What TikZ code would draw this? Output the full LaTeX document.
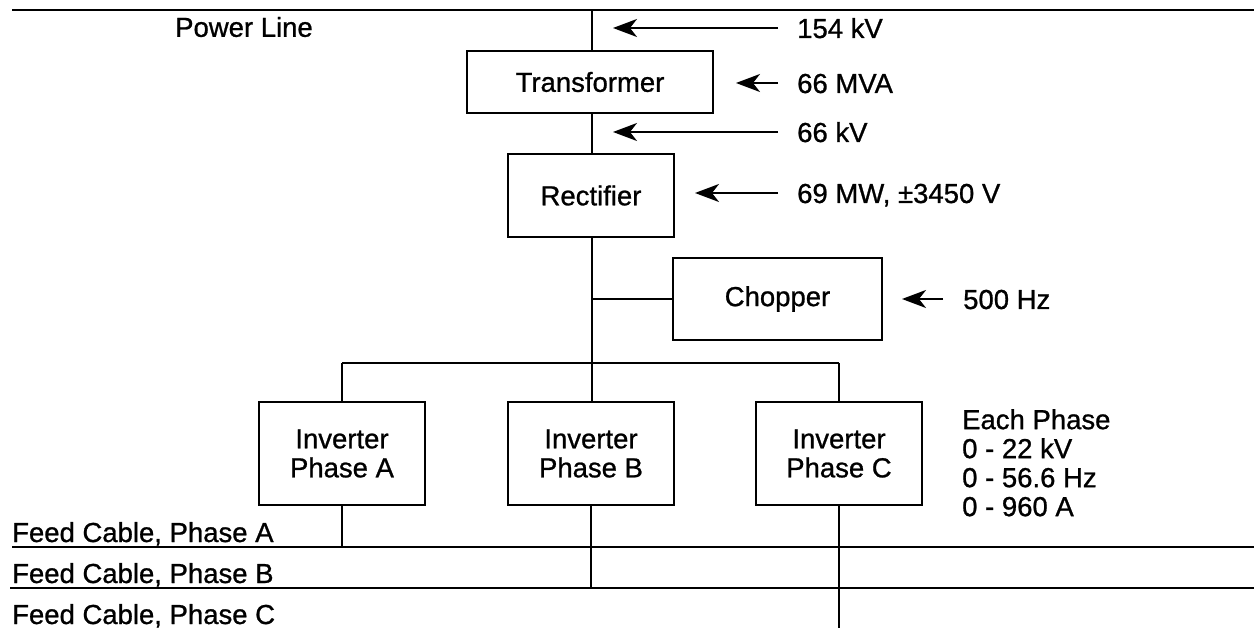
\documentclass[tikz,border=0pt]{standalone}
\usepackage{fontspec}
\setmainfont[FakeBold=0.9]{Liberation Sans}
\usetikzlibrary{arrows.meta}
\begin{document}
\begin{tikzpicture}[x=1pt,y=-1pt,
  every node/.style={font=\fontsize{27.5}{29}\selectfont},
  ln/.style={line width=1.9pt},
  blk/.style={draw,line width=1.6pt,inner sep=0pt,align=center},
  arr/.style={line width=1.9pt,-{Stealth[length=24pt,width=18pt,inset=7pt]}},
  lbl/.style={anchor=base west,inner sep=0pt}]
\useasboundingbox (0,0) rectangle (1254,628);
% top power line
\coordinate (pl0) at (12,10);
\coordinate (pl1) at (1254,10);
\coordinate (pltap) at (592,10);
\draw[ln] (pl0) -- (pl1);
\node[inner sep=0pt] (powerline) at (244,27) {Power Line};
% boxes
\node[blk,minimum width=246pt,minimum height=62pt] (trans) at (590,82) {Transformer};
\node[blk,minimum width=166pt,minimum height=83pt] (rect) at (591,195.5) {Rectifier};
\node[blk,minimum width=209pt,minimum height=82pt] (chop) at (777.5,299) {Chopper};
\node[blk,minimum width=166pt,minimum height=103pt] (invA) at (342,453.5) {Inverter\\Phase A};
\node[blk,minimum width=166pt,minimum height=103pt] (invB) at (591,453.5) {Inverter\\Phase B};
\node[blk,minimum width=166pt,minimum height=103pt] (invC) at (839,453.5) {Inverter\\Phase C};
% main trunk
\coordinate (chtap) at (592,299);
\coordinate (busA) at (342,363);
\coordinate (busB) at (592,363);
\coordinate (busC) at (839,363);
\draw[ln] (pltap) -- (trans.north -| pltap);
\draw[ln] (trans.south -| pltap) -- (rect.north -| pltap);
\draw[ln] (rect.south -| pltap) -- (busB);
\draw[ln] (chtap) -- (chop.west);
\draw[ln] (busA) -- (busC);
\draw[ln] (busA) -- (invA.north);
\draw[ln] (busB) -- (invB.north -| busB);
\draw[ln] (busC) -- (invC.north);
% feed cables
\coordinate (fa0) at (12,547);
\coordinate (fa1) at (1254,547);
\coordinate (fb0) at (10,588);
\coordinate (fb1) at (1254,588);
\coordinate (fA) at (342,547);
\coordinate (fB) at (591,588);
\coordinate (fC) at (839,628);
\draw[ln] (fa0) -- (fa1);
\draw[ln] (fb0) -- (fb1);
\draw[ln] (invA.south) -- (fA);
\draw[ln] (invB.south) -- (fB);
\draw[ln] (invC.south) -- (fC);
\node[lbl] (fcA) at (12,542) {Feed Cable, Phase A};
\node[lbl] (fcB) at (12,583) {Feed Cable, Phase B};
\node[lbl] (fcC) at (12,624) {Feed Cable, Phase C};
% ratings with arrows
\coordinate (a1) at (778,28);  \coordinate (h1) at (613,28);
\coordinate (a2) at (778,83);  \coordinate (h2) at (736,83);
\coordinate (a3) at (778,132); \coordinate (h3) at (613,132);
\coordinate (a4) at (778,193); \coordinate (h4) at (695,193);
\coordinate (a5) at (943,299); \coordinate (h5) at (902,299);
\draw[arr] (a1) -- (h1);
\draw[arr] (a2) -- (h2);
\draw[arr] (a3) -- (h3);
\draw[arr] (a4) -- (h4);
\draw[arr] (a5) -- (h5);
\node[lbl] (t1) at (797,38) {154 kV};
\node[lbl] (t2) at (797,93) {66 MVA};
\node[lbl] (t3) at (797,142) {66 kV};
\node[lbl] (t4) at (797,203) {69 MW, \char"00B1 3450 V};
\node[lbl] (t5) at (963,309) {500 Hz};
\node[anchor=north west,inner sep=0pt,align=left] (each) at (962,409) {Each Phase\\0 - 22 kV\\0 - 56.6 Hz\\0 - 960 A};
\end{tikzpicture}
\end{document}
